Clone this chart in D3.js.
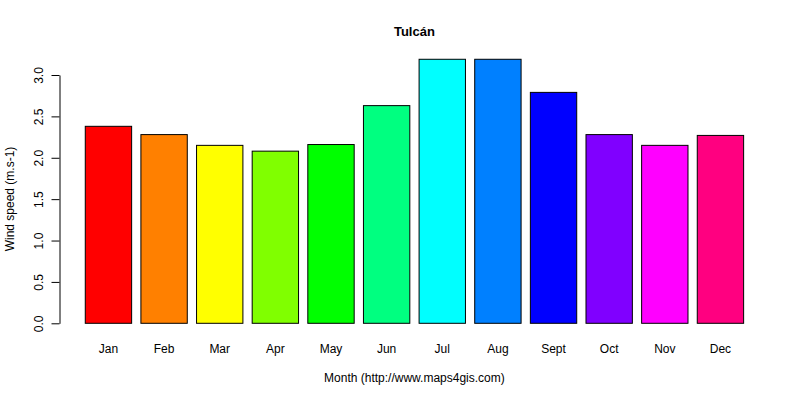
<!DOCTYPE html>
<html>
<head>
<meta charset="utf-8">
<script src="https://cdn.jsdelivr.net/npm/d3@7"></script>
<style>
  body { margin: 0; background: #fff; }
  text { font-family: "Liberation Sans", Arial, sans-serif; fill: #000; }
</style>
</head>
<body>
<div id="chart"></div>
<script>
// data
const months = ['Jan', 'Feb', 'Mar', 'Apr', 'May', 'Jun', 'Jul', 'Aug', 'Sept', 'Oct', 'Nov', 'Dec'];
const windSpeed = [2.38, 2.28, 2.15, 2.08, 2.16, 2.63, 3.19, 3.19, 2.79, 2.28, 2.15, 2.27];
const barColors = ['#FF0000', '#FF8000', '#FFFF00', '#80FF00', '#00FF00', '#00FF80',
                   '#00FFFF', '#0080FF', '#0000FF', '#8000FF', '#FF00FF', '#FF0080'];
const yTicks = [0, 0.5, 1, 1.5, 2, 2.5, 3];

const width = 800, height = 400;

const svg = d3.select('#chart')
    .append('svg')
    .attr('width', width)
    .attr('height', height);

// scales
const x = d3.scaleBand()
    .domain(months)
    .range([76, 752.9])
    .paddingInner(1 / 6)
    .paddingOuter(1 / 6);

const y = d3.scaleLinear()
    .domain([0, 3])
    .range([323.3, 75]);

// bars
svg.selectAll('.bar')
    .data(months)
    .join('rect')
    .attr('class', 'bar')
    .attr('x', d => x(d))
    .attr('y', (d, i) => y(windSpeed[i]))
    .attr('width', x.bandwidth())
    .attr('height', (d, i) => y(0) - y(windSpeed[i]))
    .attr('fill', (d, i) => barColors[i])
    .attr('stroke', '#000')
    .attr('stroke-width', 1);

// y axis
const yAxis = d3.axisLeft(y)
    .tickValues(yTicks)
    .tickSize(8)
    .tickSizeOuter(0)
    .tickPadding(0)
    .tickFormat(d3.format('.1f'));

const gy = svg.append('g')
    .attr('transform', 'translate(59.5,0)')
    .call(yAxis);
gy.select('.domain').attr('stroke', '#000');
gy.selectAll('.tick line').attr('stroke', '#000');
gy.selectAll('.tick text')
    .attr('x', null)
    .attr('text-anchor', 'middle')
    .attr('transform', 'translate(-21,0) rotate(-90)')
    .attr('dy', '0.35em')
    .style('font-size', '12px')
    .style('font-family', '"Liberation Sans", Arial, sans-serif');

// month labels
svg.selectAll('.month')
    .data(months)
    .join('text')
    .attr('class', 'month')
    .attr('x', d => x(d) + x.bandwidth() / 2)
    .attr('y', 353)
    .attr('text-anchor', 'middle')
    .style('font-size', '12px')
    .text(d => d);

// titles
svg.append('text')
    .attr('x', 414.4)
    .attr('y', 36)
    .attr('text-anchor', 'middle')
    .style('font-size', '13px')
    .style('font-weight', 'bold')
    .text('Tulcán');

svg.append('text')
    .attr('x', 414.4)
    .attr('y', 382)
    .attr('text-anchor', 'middle')
    .style('font-size', '12px')
    .text('Month (http://www.maps4gis.com)');

svg.append('text')
    .attr('transform', 'translate(14,199) rotate(-90)')
    .attr('text-anchor', 'middle')
    .style('font-size', '12px')
    .text('Wind speed (m.s-1)');
</script>
</body>
</html>
